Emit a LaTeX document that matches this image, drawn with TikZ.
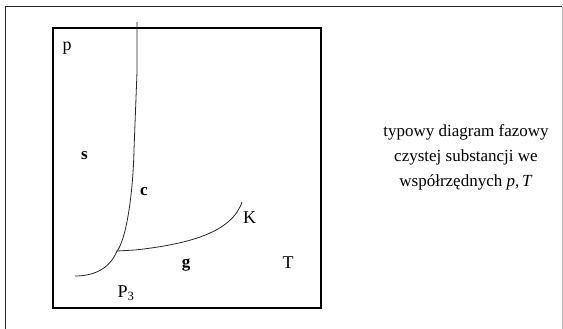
\documentclass[tikz,border=0pt]{standalone}
\usepackage{fontspec}
\setmainfont{Liberation Serif}
\usetikzlibrary{positioning}

\begin{document}
\begin{tikzpicture}[x=1pt, y=-1pt, every node/.style={font=\fontsize{18}{20}\selectfont, inner sep=0pt}]
\tikzset{phase/.style={font=\fontsize{17}{20}\selectfont\bfseries},
  curve/.style={line width=0.8pt, black!85}}
\useasboundingbox (0,0) rectangle (563,329);
% outer frame, open at the bottom
\draw[line width=1pt, black!85] (5,329) -- (5,7) -- (562,7);
\draw[line width=1pt, black!30] (562,7) -- (562,329);
% inner box
\draw[line width=2.5pt] (53,28) rectangle (321,308);
% special points
\coordinate (tri) at (117,251);
\coordinate (crit) at (242,202);
% phase boundaries
\draw[curve] (137,22) -- (137,72) -- (134,150) .. controls (133,195) and (126,240) .. (tri);
\draw[curve] (tri) .. controls (110,268) and (95,276) .. (75,276);
\draw[curve] (tri) -- (135,250) .. controls (190,244) and (232,232) .. (crit);
% labels
\node (pax) at (67,48) {p};
\node (Tax) at (288,263) {T};
\node[right=1pt of crit, yshift=-16pt] (Klab) {K};
\node (P3) at (126,293) {P\textsubscript{3}};
\node[phase] (solid) at (84.5,156) {s};
\node[phase] (liquid) at (144,192) {c};
\node[phase] (gas) at (186,265) {g};
% caption
\node[align=center, font=\fontsize{17}{25}\selectfont] (caption) at (466,157)
  {typowy diagram fazowy\\czystej substancji we\\współrzędnych \textit{p},\,\textit{T}};
\end{tikzpicture}
\end{document}
